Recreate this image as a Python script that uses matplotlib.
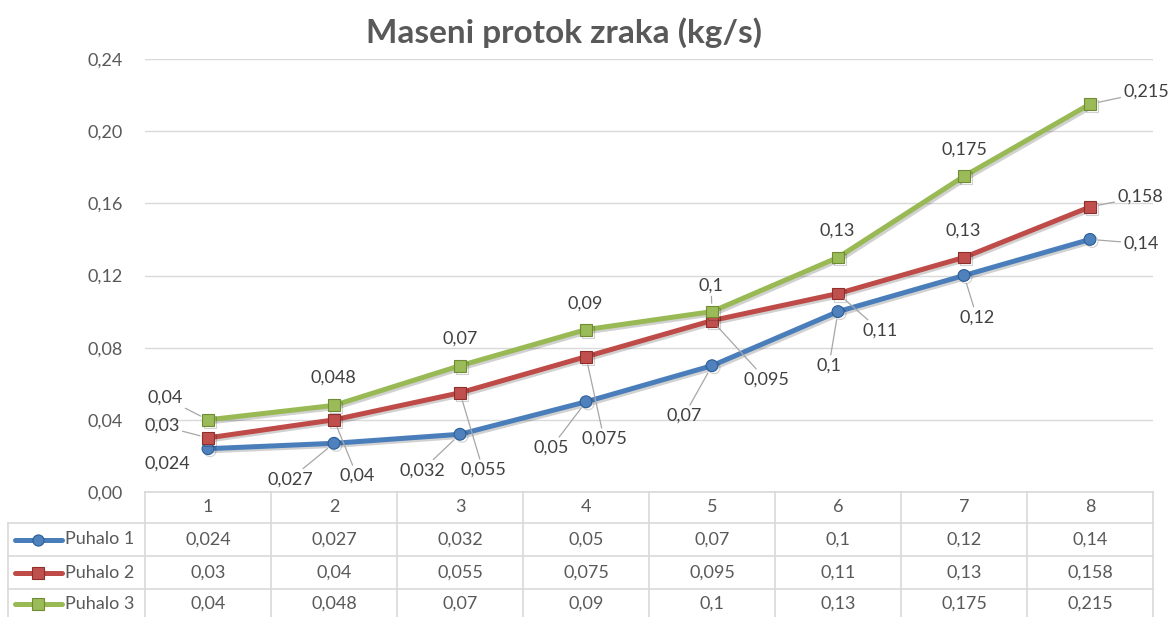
import matplotlib
matplotlib.use("Agg")
import matplotlib.pyplot as plt
import matplotlib.patheffects as pe

plt.rcParams['font.family'] = ['Lato', 'DejaVu Sans']

# ---- data ----
categories = ["1", "2", "3", "4", "5", "6", "7", "8"]
series_names = ["Puhalo 1", "Puhalo 2", "Puhalo 3"]
puhalo1 = [0.024, 0.027, 0.032, 0.05, 0.07, 0.1, 0.12, 0.14]
puhalo2 = [0.03, 0.04, 0.055, 0.075, 0.095, 0.11, 0.13, 0.158]
puhalo3 = [0.04, 0.048, 0.07, 0.09, 0.1, 0.13, 0.175, 0.215]
yticks = [0.00, 0.04, 0.08, 0.12, 0.16, 0.20, 0.24]
title = "Maseni protok zraka (kg/s)"

# ---- style ----
W, H = 1170, 617
line_colors = ["#4A7EBB", "#BE4B48", "#98B954"]
marker_colors = ["#4F81BD", "#C0504D", "#9BBB59"]
marker_edges = ["#2C5D96", "#8E2F2C", "#6F8C34"]
markers = ["o", "s", "s"]
FS = 13

# label offsets in pixels (dx right, dy down) and leader flags
label_offsets = [
    [(-41, 15), (-44, 36), (-38, 36), (-35, 46), (-28, 50), (-9, 54), (13, 42), (51, 4)],
    [(-46, -12), (23, 56), (23, 77), (18, 82), (54, 59), (42, 37), (-1, -27), (50, -10)],
    [(-43, -22), (-1, -28), (0, -27), (-1, -26), (-1, -26), (-1, -27), (0, -27), (56, -12)],
]
leaders = [
    [False, True, True, True, True, True, True, True],
    [True, True, True, True, True, True, False, True],
    [True, False, False, False, True, False, False, True],
]

def fmt(v):
    return ("%g" % v).replace(".", ",")

fig = plt.figure(figsize=(W / 100, H / 100), dpi=100)

# table axes in pixel coordinates
tax = fig.add_axes([0, 0, 1, 1])
tax.set_xlim(0, W)
tax.set_ylim(H, 0)
tax.axis("off")

plot_left, plot_right = 145, 1153
plot_top, plot_bottom = 59, 492

ax = fig.add_axes([plot_left / W, 1 - plot_bottom / H,
                   (plot_right - plot_left) / W, (plot_bottom - plot_top) / H])
ax.set_facecolor("none")

x = list(range(1, len(categories) + 1))
all_series = [puhalo1, puhalo2, puhalo3]

for i, ys in enumerate(all_series):
    ax.plot(x, ys, color=line_colors[i], lw=3.6, solid_capstyle="round",
            marker=markers[i], markersize=8.5, markerfacecolor=marker_colors[i],
            markeredgecolor=marker_edges[i], markeredgewidth=0.8, zorder=3 + i,
            path_effects=[pe.SimpleLineShadow(offset=(1.5, -1.5), alpha=0.18),
                          pe.Normal()])
    for j, v in enumerate(ys):
        dx, dy = label_offsets[i][j]
        kw = {}
        if leaders[i][j]:
            kw["arrowprops"] = dict(arrowstyle="-", color="#A6A6A6", lw=0.9,
                                    shrinkA=0, shrinkB=6)
        ax.annotate(fmt(v), xy=(x[j], v), xytext=(dx, -dy),
                    textcoords="offset pixels", ha="center", va="center",
                    fontsize=FS, color="#404040", annotation_clip=False,
                    bbox=dict(boxstyle="square,pad=0.15", fc="none", ec="none"),
                    zorder=10, **kw)

ax.set_xlim(0.5, len(categories) + 0.5)
ax.set_ylim(0, 0.24)
ax.set_yticks(yticks)
ax.set_yticklabels([("%.2f" % t).replace(".", ",") for t in yticks])
ax.set_xticks([])
ax.tick_params(axis="y", length=0, pad=16, labelsize=FS, labelcolor="#595959")
ax.grid(axis="y", color="#D9D9D9", lw=1)
ax.set_axisbelow(True)
for s in ax.spines.values():
    s.set_visible(False)

# ---- data table ----
gc = "#D9D9D9"
col_w = (plot_right - plot_left) / len(categories)
row_edges = [492, 523, 556, 589, 617]
tax.plot([plot_left, plot_right], [row_edges[0]] * 2, color=gc, lw=1.2)
for yy in row_edges[1:4]:
    tax.plot([8, plot_right], [yy, yy], color=gc, lw=1.2)
for k in range(len(categories) + 1):
    xx = plot_left + k * col_w
    tax.plot([xx, xx], [row_edges[0], H], color=gc, lw=1.2)
tax.plot([8, 8], [row_edges[1], H], color=gc, lw=1.2)

for k, c in enumerate(categories):
    cx = plot_left + (k + 0.5) * col_w
    tax.text(cx, (row_edges[0] + row_edges[1]) / 2, c, ha="center", va="center",
             fontsize=FS, color="#595959")
for i, ys in enumerate(all_series):
    cy = (row_edges[i + 1] + row_edges[i + 2]) / 2 + (1 if i == 2 else 0)
    tax.plot([15, 62], [cy, cy], color=line_colors[i], lw=3.6, solid_capstyle="round")
    tax.plot([38], [cy], marker=markers[i], markersize=8, color=marker_colors[i],
             markeredgecolor=marker_edges[i], markeredgewidth=0.8)
    tax.text(65, cy, series_names[i], ha="left", va="center", fontsize=FS,
             color="#595959")
    for k, v in enumerate(ys):
        cx = plot_left + (k + 0.5) * col_w
        tax.text(cx, cy, fmt(v), ha="center", va="center", fontsize=FS,
                 color="#595959")

fig.text(564 / W, 1 - 33 / H, title, ha="center", va="center", fontsize=24,
         fontweight="bold", color="#595959")

fig.savefig("out.png", dpi=100)
